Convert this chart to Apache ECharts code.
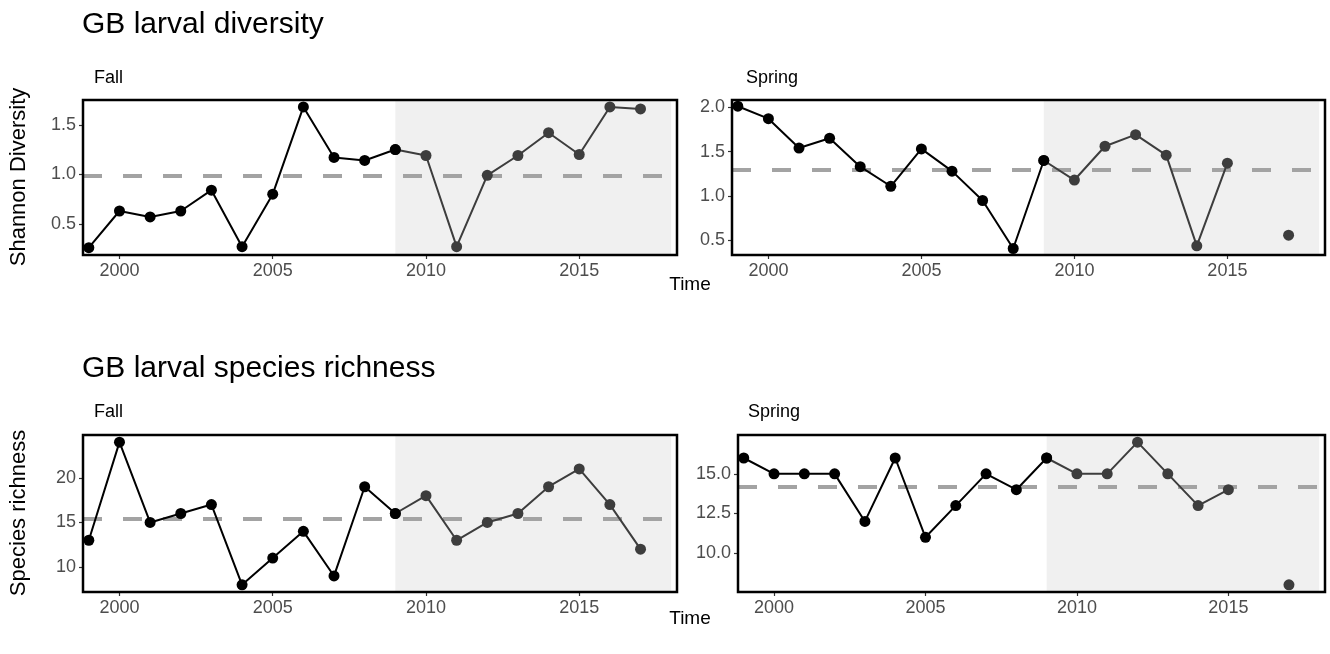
<!DOCTYPE html>
<html>
<head>
<meta charset="utf-8">
<title>GB larval diversity</title>
<script src="https://cdn.jsdelivr.net/npm/echarts@6/dist/echarts.min.js"></script>
<style>
  html, body { margin: 0; padding: 0; background: #fff; }
  #chart { width: 1330px; height: 654px; }
</style>
</head>
<body>
<div id="chart"></div>
<script>
// survey years, values
const years = [1999, 2000, 2001, 2002, 2003, 2004, 2005, 2006, 2007, 2008,
               2009, 2010, 2011, 2012, 2013, 2014, 2015, 2016, 2017]
const fallDiversity = [0.26, 0.63, 0.57, 0.63, 0.84, 0.27, 0.80, 1.68, 1.17, 1.14,
                       1.25, 1.19, 0.27, 0.99, 1.19, 1.42, 1.20, 1.68, 1.66]
const springDiversity = [2.01, 1.87, 1.54, 1.65, 1.33, 1.11, 1.53, 1.28, 0.95, 0.41,
                         1.40, 1.18, 1.56, 1.69, 1.46, 0.44, 1.37, null, 0.56]
const fallRichness = [13, 24, 15, 16, 17, 8, 11, 14, 9, 19,
                      16, 18, 13, 15, 16, 19, 21, 17, 12]
const springRichness = [16, 15, 15, 15, 12, 16, 11, 13, 15, 14,
                        16, 15, 15, 17, 15, 13, 14, null, 8]

// long-term means (dashed lines)
const fallDiversityMean = 0.99
const springDiversityMean = 1.30
const fallRichnessMean = 15.42
const springRichnessMean = 14.17

// tick labels
const xTicks = [2000, 2005, 2010, 2015]
const fallDiversityTicks = [0.5, 1.0, 1.5]
const springDiversityTicks = [0.5, 1.0, 1.5, 2.0]
const fallRichnessTicks = [10, 15, 20]
const springRichnessTicks = [10.0, 12.5, 15.0]

// recent period shading
const shadeStart = 2009
const shadeEnd = 2018

const FONT = "'Liberation Sans', Arial, sans-serif"
const X_MIN = 1998.81
const X_MAX = 2018.19

// panel boxes in px
const boxes = [
  { left: 83, top: 100, width: 594, height: 155 },
  { left: 732, top: 100, width: 593, height: 155 },
  { left: 83, top: 435, width: 594, height: 157 },
  { left: 738, top: 435, width: 587, height: 157 }
]

const panels = [
  { values: fallDiversity, mean: fallDiversityMean, ticks: fallDiversityTicks, min: 0.186, max: 1.75, digits: 1 },
  { values: springDiversity, mean: springDiversityMean, ticks: springDiversityTicks, min: 0.337, max: 2.08, digits: 1 },
  { values: fallRichness, mean: fallRichnessMean, ticks: fallRichnessTicks, min: 7.2, max: 24.8, digits: 0 },
  { values: springRichness, mean: springRichnessMean, ticks: springRichnessTicks, min: 7.55, max: 17.45, digits: 1 }
]

const grids = []
const xAxes = []
const yAxes = []
const series = []
const graphics = []

panels.forEach((p, i) => {
  const b = boxes[i]
  const pts = years.map((y, k) => [y, p.values[k]])
  const split = years.indexOf(shadeStart)

  grids.push({ left: b.left, top: b.top, width: b.width, height: b.height, show: false })

  xAxes.push({
    gridIndex: i,
    type: 'value',
    min: X_MIN,
    max: X_MAX,
    axisLine: { show: false },
    splitLine: { show: false },
    axisTick: { show: true, length: 4, lineStyle: { color: '#333', width: 1.2 }, customValues: xTicks },
    axisLabel: {
      customValues: xTicks,
      color: '#4d4d4d',
      fontSize: 18,
      fontFamily: FONT,
      margin: 7,
      formatter: (v) => String(v)
    }
  })

  yAxes.push({
    gridIndex: i,
    type: 'value',
    min: p.min,
    max: p.max,
    axisLine: { show: false },
    splitLine: { show: false },
    axisTick: { show: true, length: 4, lineStyle: { color: '#333', width: 1.2 }, customValues: p.ticks },
    axisLabel: {
      customValues: p.ticks,
      color: '#4d4d4d',
      fontSize: 18,
      fontFamily: FONT,
      margin: 7,
      formatter: (v) => Number(v).toFixed(p.digits)
    }
  })

  // shading + mean line sit under the data
  series.push({
    type: 'line',
    xAxisIndex: i,
    yAxisIndex: i,
    data: [],
    z: 1,
    silent: true,
    markArea: {
      silent: true,
      z: 1,
      itemStyle: { color: '#f0f0f0' },
      data: [[{ xAxis: shadeStart }, { xAxis: shadeEnd }]]
    },
    markLine: {
      silent: true,
      z: 2,
      symbol: 'none',
      label: { show: false },
      lineStyle: { color: '#a3a3a3', width: 4, type: [19, 21] },
      data: [{ yAxis: p.mean }]
    }
  })

  series.push({
    type: 'line',
    xAxisIndex: i,
    yAxisIndex: i,
    data: pts.slice(split),
    z: 10,
    symbol: 'circle',
    symbolSize: 11,
    showAllSymbol: true,
    connectNulls: false,
    lineStyle: { color: '#3d3d3d', width: 2 },
    itemStyle: { color: '#3d3d3d' }
  })

  series.push({
    type: 'line',
    xAxisIndex: i,
    yAxisIndex: i,
    data: pts.slice(0, split + 1),
    z: 11,
    symbol: 'circle',
    symbolSize: 11,
    showAllSymbol: true,
    lineStyle: { color: '#000', width: 2 },
    itemStyle: { color: '#000' }
  })

  // panel border on top
  graphics.push({
    type: 'rect',
    silent: true,
    z: 100,
    shape: { x: b.left, y: b.top, width: b.width, height: b.height },
    style: { fill: 'none', stroke: '#000', lineWidth: 2.5 }
  })
})

function txt(text, x, y, size, align, rotation) {
  return {
    type: 'text',
    x: x,
    y: y,
    rotation: rotation || 0,
    silent: true,
    style: { text: text, fontSize: size, fontFamily: FONT, fill: '#000', align: align || 'left', verticalAlign: 'middle' }
  }
}

graphics.push(
  txt('GB larval diversity', 82, 25, 30),
  txt('Fall', 94, 78, 18),
  txt('Spring', 746, 78, 18),
  txt('Time', 690, 285, 19, 'center'),
  txt('GB larval species richness', 82, 369, 30),
  txt('Fall', 94, 412, 18),
  txt('Spring', 748, 412, 18),
  txt('Time', 690, 619, 19, 'center'),
  txt('Shannon Diversity', 19, 177, 22, 'center', Math.PI / 2),
  txt('Species richness', 19, 513, 22, 'center', Math.PI / 2)
)

const chart = echarts.init(document.getElementById('chart'))
chart.setOption({
  animation: false,
  backgroundColor: '#fff',
  grid: grids,
  xAxis: xAxes,
  yAxis: yAxes,
  series: series,
  graphic: graphics
})
window.addEventListener('resize', () => chart.resize())
</script>
</body>
</html>
